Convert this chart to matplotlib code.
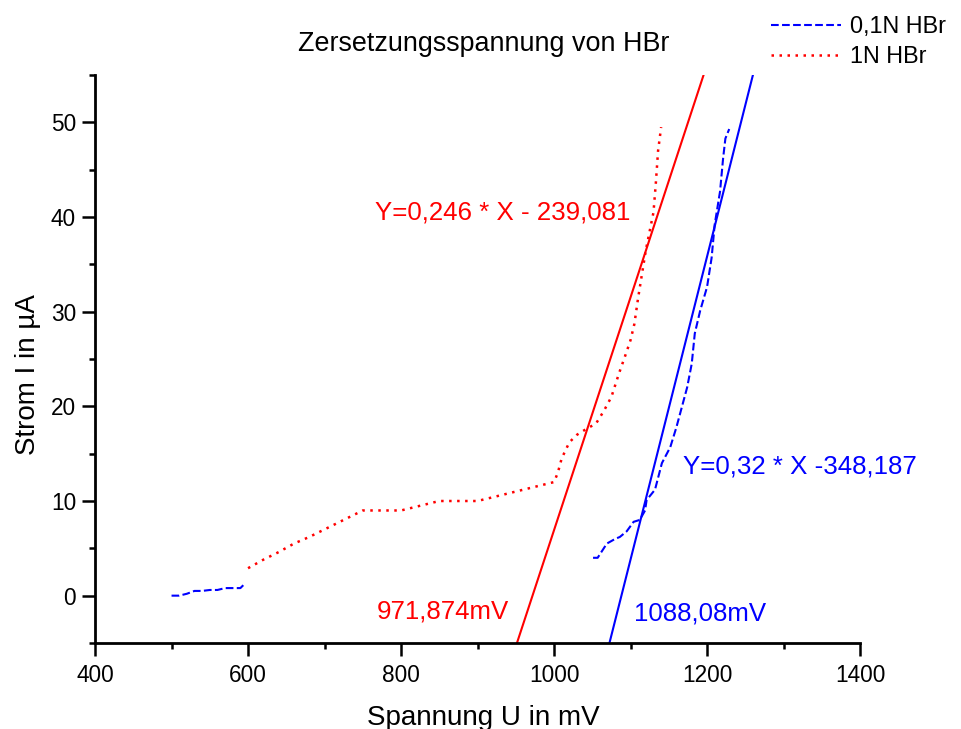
import numpy as np
import matplotlib
matplotlib.use("Agg")
import matplotlib.pyplot as plt

plt.rcParams['font.family'] = ['Liberation Sans', 'DejaVu Sans']

# 0,1N HBr measurement (two separate runs, gap in between)
u_01 = [500, 510, 520, 530, 540, 550, 560, 570, 580, 590, 595, np.nan,
        1051, 1057, 1069, 1080, 1086, 1095, 1104, 1112, 1119, 1121, 1132,
        1141, 1152, 1160, 1167, 1174, 1180, 1184, 1191, 1200, 1206, 1210,
        1217, 1221, 1224, 1229]
i_01 = [0.0, 0.0, 0.2, 0.5, 0.5, 0.6, 0.6, 0.8, 0.8, 0.8, 1.2, np.nan,
        4.0, 4.0, 5.5, 6.0, 6.2, 6.8, 7.8, 8.0, 9.0, 10.1, 11.2,
        14.0, 15.7, 17.8, 19.9, 22.0, 24.5, 27.7, 30.1, 32.6, 35.7, 39.2,
        42.7, 46.2, 48.3, 49.3]

# 1N HBr measurement
u_1 = [600, 620, 640, 660, 680, 700, 720, 740, 750, 775, 800, 825, 850,
       875, 900, 925, 950, 975, 1000, 1005, 1010, 1020, 1030, 1040, 1055,
       1065, 1075, 1085, 1095, 1100, 1105, 1110, 1115, 1120, 1125, 1130,
       1133, 1136, 1140]
i_1 = [2.9, 3.8, 4.6, 5.5, 6.2, 7.0, 7.8, 8.6, 9.0, 9.0, 9.0, 9.5, 10.0,
       10.0, 10.0, 10.5, 11.0, 11.5, 12.0, 13.0, 14.5, 16.2, 17.0, 17.5, 18.2,
       19.5, 21.0, 23.5, 25.8, 27.0, 28.7, 31.5, 34.0, 36.5, 38.5, 40.5,
       43.5, 47.0, 49.5]

# linear fits
fit_1 = (0.246, -239.081)
fit_01 = (0.32, -348.187)
fit_x = [400, 1400]

fig = plt.figure(figsize=(9.62, 7.29), dpi=100)
ax = fig.add_axes([0.0988, 0.118, 0.7952, 0.779])

ax.plot(u_01, i_01, color='blue', linestyle='--', linewidth=1.5, label='0,1N HBr')
ax.plot(u_1, i_1, color='red', linestyle=(0, (1, 2.2)), linewidth=1.8, label='1N HBr')

fx = np.array(fit_x)
ax.plot(fx, fit_1[0] * fx + fit_1[1], color='red', linewidth=1.5)
ax.plot(fx, fit_01[0] * fx + fit_01[1], color='blue', linewidth=1.5)

ax.set_xlim(400, 1400)
ax.set_ylim(-5, 55)
ax.set_xticks([400, 600, 800, 1000, 1200, 1400])
ax.set_xticks(np.arange(500, 1400, 200), minor=True)
ax.set_yticks([0, 10, 20, 30, 40, 50])
ax.set_yticks([-5, 5, 15, 25, 35, 45, 55], minor=True)

for s in ['top', 'right']:
    ax.spines[s].set_visible(False)
for s in ['left', 'bottom']:
    ax.spines[s].set_linewidth(2)
ax.tick_params(which='major', direction='out', length=9.4, width=1.8, labelsize=16.3)
ax.tick_params(which='minor', direction='out', length=4.5, width=1.8)
ax.tick_params(axis='x', which='major', pad=5.8)
ax.tick_params(axis='y', which='major', pad=4.3)

ax.set_xlabel('Spannung U in mV', fontsize=20)
ax.xaxis.set_label_coords(0.507, -0.109)
ax.set_ylabel('Strom I in µA', fontsize=20)
ax.yaxis.set_label_coords(-0.071, 0.472)

fig.text(484 / 962, 1 - 44 / 729, 'Zersetzungsspannung von HBr', fontsize=19.4,
         ha='center', va='center')

ax.text(766, 40.5, 'Y=0,246 * X - 239,081', color='red', fontsize=18.6, va='center')
ax.text(1168, 13.6, 'Y=0,32 * X -348,187', color='blue', fontsize=18.6, va='center')
ax.text(768, -1.7, '971,874mV', color='red', fontsize=18.6, va='center')
ax.text(1104, -1.9, '1088,08mV', color='blue', fontsize=18.6, va='center')

ax.legend(loc='upper right', bbox_to_anchor=(0.996, 0.995), bbox_transform=fig.transFigure,
          frameon=False, fontsize=16.8, handlelength=3.0, labelspacing=0.3,
          handletextpad=0.4, borderaxespad=0.1)

fig.savefig('out.png', dpi=100)
